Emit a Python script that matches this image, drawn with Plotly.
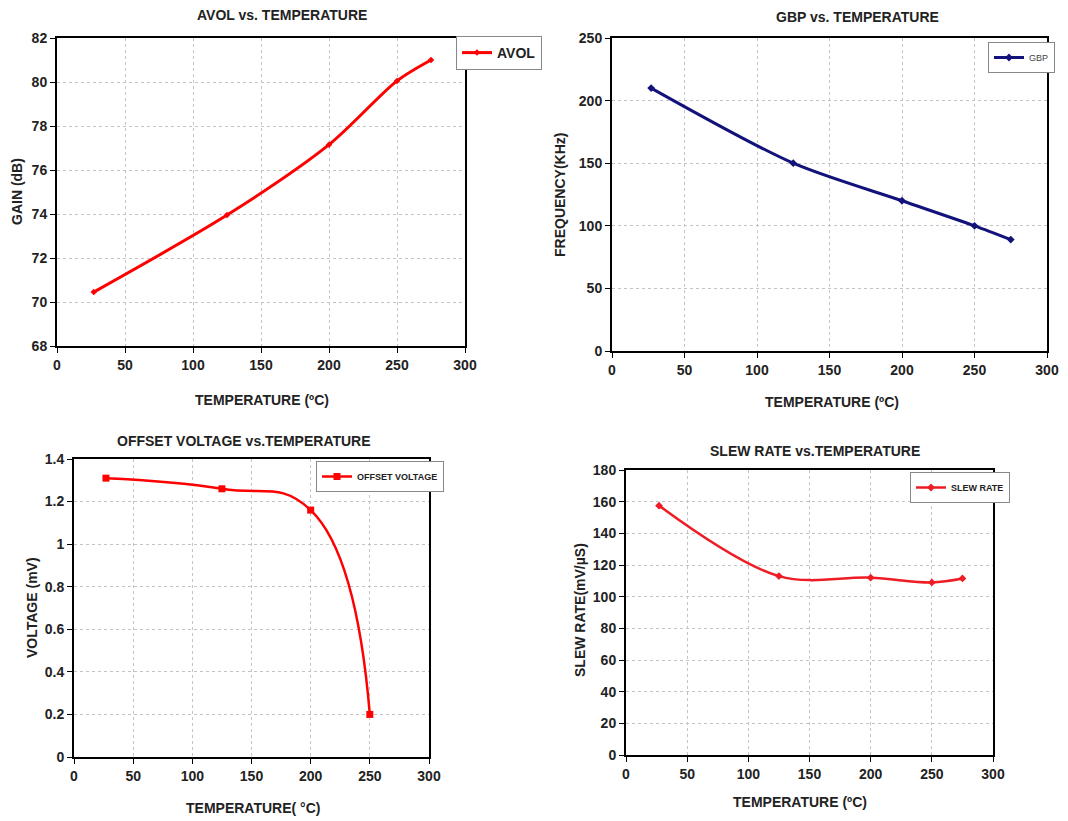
import plotly.graph_objects as go

W, H = 1068, 821

# ---- data ----
avol_temp = [27, 125, 200, 250, 275]
avol_gain = [70.45, 73.95, 77.15, 80.05, 81.0]

gbp_temp = [27, 125, 200, 250, 275]
gbp_freq = [210, 150, 120, 100, 89]

off_temp = [27, 125, 200, 250]
off_volt = [1.31, 1.26, 1.16, 0.2]

slew_temp = [27, 125, 200, 250, 275]
slew_rate = [157.5, 113, 112, 109, 111.5]

x_ticks = [0, 50, 100, 150, 200, 250, 300]

FONT = "Liberation Sans, Arial, sans-serif"

def px_dom(a, b):
    return [a / W, b / W]

def py_dom(top, bottom):
    return [1 - bottom / H, 1 - top / H]

fig = go.Figure()

fig.add_trace(go.Scatter(x=avol_temp, y=avol_gain, name="AVOL", mode="lines+markers",
                         line=dict(color="#ff0000", width=3, shape="spline", smoothing=0.8),
                         marker=dict(symbol="diamond", size=5, color="#ff0000"),
                         xaxis="x", yaxis="y", legend="legend"))
fig.add_trace(go.Scatter(x=gbp_temp, y=gbp_freq, name="GBP", mode="lines+markers",
                         line=dict(color="#12127a", width=3, shape="spline", smoothing=0.8),
                         marker=dict(symbol="diamond", size=6, color="#12127a"),
                         xaxis="x2", yaxis="y2", legend="legend2"))
fig.add_trace(go.Scatter(x=off_temp, y=off_volt, name="OFFSET VOLTAGE", mode="lines+markers",
                         line=dict(color="#ff0000", width=2.5, shape="spline", smoothing=1.3),
                         marker=dict(symbol="square", size=7, color="#ff0000"),
                         xaxis="x3", yaxis="y3", legend="legend3"))
fig.add_trace(go.Scatter(x=slew_temp, y=slew_rate, name="SLEW RATE", mode="lines+markers",
                         line=dict(color="#ee1c24", width=2.5, shape="spline", smoothing=1.0),
                         marker=dict(symbol="diamond", size=6, color="#ee1c24"),
                         xaxis="x4", yaxis="y4", legend="legend4"))

tickfont = dict(family=FONT, size=14, color="#222", weight="bold")

def common():
    return dict(showgrid=True, gridcolor="#c4c4c4", griddash="dot", gridwidth=1,
                showline=True, linecolor="black", linewidth=2, mirror=True,
                ticks="outside", ticklen=5, tickcolor="black", tickwidth=1,
                zeroline=False, tickfont=tickfont, automargin=False)

def xax(domain, anchor):
    d = common()
    d.update(domain=domain, anchor=anchor, range=[0, 300], tickvals=x_ticks)
    return d

def yax(domain, anchor, rng, dtick):
    d = common()
    d.update(domain=domain, anchor=anchor, range=rng, dtick=dtick)
    return d

d1x, d1y = px_dom(57, 465), py_dom(38, 346)
d2x, d2y = px_dom(612, 1047), py_dom(38, 351)
d3x, d3y = px_dom(74, 429), py_dom(459, 757)
d4x, d4y = px_dom(626, 993), py_dom(470, 755)

def legend_box(x, y, size, weight="bold", color="#222"):
    return dict(x=x / W, y=1 - y / H, xanchor="left", yanchor="top",
                bgcolor="white", bordercolor="#888", borderwidth=1,
                font=dict(family=FONT, size=size, color=color, weight=weight),
                itemwidth=30, tracegroupgap=0)

fig.update_layout(
    width=W, height=H,
    margin=dict(l=0, r=0, t=0, b=0, pad=0, autoexpand=False),
    paper_bgcolor="white", plot_bgcolor="white",
    xaxis=xax(d1x, "y"), yaxis=yax(d1y, "x", [68, 82], 2),
    xaxis2=xax(d2x, "y2"), yaxis2=yax(d2y, "x2", [0, 250], 50),
    xaxis3=xax(d3x, "y3"), yaxis3=yax(d3y, "x3", [0, 1.4], 0.2),
    xaxis4=xax(d4x, "y4"), yaxis4=yax(d4y, "x4", [0, 180], 20),
    legend=legend_box(456, 36, 14),
    legend2=legend_box(988, 42, 9, "normal", "#444"),
    legend3=legend_box(316, 461, 9),
    legend4=legend_box(910, 472, 9),
    showlegend=True,
)

def ann(text, x, y, size, angle=0):
    fig.add_annotation(text=text, x=x / W, y=1 - y / H, xref="paper", yref="paper",
                       showarrow=False, textangle=angle, xanchor="center", yanchor="middle",
                       font=dict(family=FONT, size=size, color="#222", weight="bold"))

# titles
ann("AVOL vs. TEMPERATURE", 282, 15, 14)
ann("GBP vs. TEMPERATURE", 857, 17, 14)
ann("OFFSET VOLTAGE vs.TEMPERATURE", 244, 441, 14)
ann("SLEW RATE vs.TEMPERATURE", 815, 451, 14)

# x-axis titles
ann("TEMPERATURE (ºC)", 262, 400, 14)
ann("TEMPERATURE (ºC)", 832, 402, 14)
ann("TEMPERATURE( °C)", 253, 808, 14)
ann("TEMPERATURE (ºC)", 800, 802, 14)

# y-axis titles
ann("GAIN (dB)", 17, 192, 14, -90)
ann("FREQUENCY(KHz)", 560, 195, 14, -90)
ann("VOLTAGE (mV)", 32, 608, 14, -90)
ann("SLEW RATE(mV/µS)", 580, 610, 14, -90)

fig.write_html("out.html",
               config={"displayModeBar": False},
               post_script="document.body.style.margin='0';document.body.style.overflow='hidden';")
